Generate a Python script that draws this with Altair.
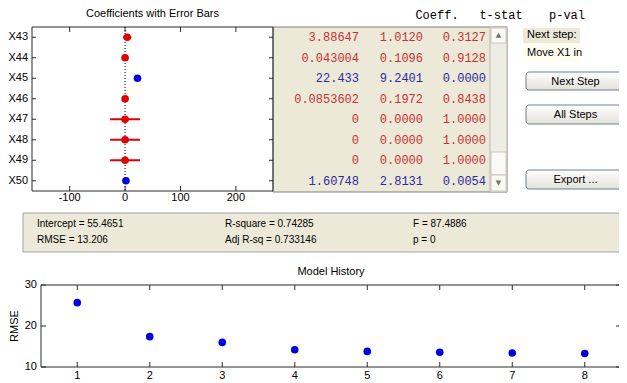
import altair as alt
import pandas as pd

# ---------------- data ----------------
variables = ["X43", "X44", "X45", "X46", "X47", "X48", "X49", "X50"]
coeff = [3.88647, 0.043004, 22.433, 0.0853602, 0.0, 0.0, 0.0, 1.60748]
coeff_text = ["3.88647", "0.043004", "22.433", "0.0853602", "0", "0", "0", "1.60748"]
t_stat = ["1.0120", "0.1096", "9.2401", "0.1972", "0.0000", "0.0000", "0.0000", "2.8131"]
p_val = ["0.3127", "0.9128", "0.0000", "0.8438", "1.0000", "1.0000", "1.0000", "0.0054"]
in_model = [False, False, True, False, False, False, False, True]
ci_half = [7.5, 0.8, 4.8, 0.8, 27.0, 27.0, 27.0, 1.1]
coef_ticks = [-100, 0, 100, 200]

steps = [1, 2, 3, 4, 5, 6, 7, 8]
rmse = [25.7, 17.4, 16.0, 14.2, 13.8, 13.6, 13.4, 13.3]
rmse_ticks = [10, 20, 30]

table_headers = ["Coeff.", "t-stat", "p-val"]
stats_text = [["Intercept = 55.4651", "RMSE = 13.206"],
              ["R-square = 0.74285", "Adj R-sq = 0.733146"],
              ["F = 87.4886", "p = 0"]]
next_step_text = ["Next step:", "Move X1 in"]
button_labels = ["Next Step", "All Steps", "Export ..."]

# ---------------- layout (pixels inside the chart) ----------------
W, H = 611, 375
TX0, TX1, TY0, TY1 = 24, 265, 19, 183       # coefficient axes
BX0, BX1, BY0, BY1 = 33, 613, 277, 359      # model history axes
TAB_X1, SCR_X0 = 499, 482
col_right = [351, 415, 478]
head_x = [429, 493, 559]
btn_y = [(64, 82), (97, 116), (162, 181)]
stats_x = [29, 217, 405]
stats_y = [216, 232]

SANS = "Liberation Sans"
MONO = "Liberation Mono"
FRAME = "#2b2b2b"
RED_DOT, BLUE_DOT = "#E00000", "#0000DD"
RED_TXT, BLUE_TXT = "#C83232", "#2B2BA0"

one = pd.DataFrame({"k": [0]})


def box(x0, x1, y0, y1, **kw):
    return alt.Chart(one).mark_rect(**kw).encode(
        x=alt.value(x0), x2=alt.value(x1), y=alt.value(y0), y2=alt.value(y1))


def label(txt, x, y, **kw):
    opts = dict(font=SANS, fontSize=11, color="black", baseline="middle")
    opts.update(kw)
    return alt.Chart(one).mark_text(text=txt, **opts).encode(
        x=alt.value(x), y=alt.value(y))


coef_df = pd.DataFrame({
    "var": variables,
    "coef": coeff,
    "lo": [c - h for c, h in zip(coeff, ci_half)],
    "hi": [c + h for c, h in zip(coeff, ci_half)],
    "coef_txt": coeff_text,
    "t_txt": t_stat,
    "p_txt": p_val,
    "status": ["In" if m else "Out" for m in in_model],
})
hist_df = pd.DataFrame({"step": steps, "rmse": rmse})
ctick_df = pd.DataFrame({"t": coef_ticks, "lab": [str(v) for v in coef_ticks]})
zero_df = pd.DataFrame({"t": [0]})
stick_df = pd.DataFrame({"s": steps, "lab": [str(v) for v in steps]})
rtick_df = pd.DataFrame({"r": rmse_ticks, "lab": [str(v) for v in rmse_ticks]})

is_in = alt.datum.status == "In"

# ---------------- background decorations ----------------
btn_fill = alt.Gradient(gradient="linear",
                        stops=[alt.GradientStop(color="#FFFFFF", offset=0),
                               alt.GradientStop(color="#E2E1DA", offset=1)],
                        x1=0, x2=0, y1=0, y2=1)

back = [
    box(TX1, TAB_X1, TY0, TY1 + 1, fill="#ECE9D8", stroke="#7F7F7F", strokeWidth=1),
    box(SCR_X0, TAB_X1, TY0, TY1 + 1, fill="#EEEDE5", stroke="#B9B7AC", strokeWidth=1),
    box(SCR_X0 + 1, TAB_X1 - 1, TY0 + 1, TY0 + 16, fill="#FAF9F5", stroke="#C9C7BC", strokeWidth=1),
    box(SCR_X0 + 1, TAB_X1 - 1, 144, 167, fill="#FAF9F5", stroke="#C9C7BC", strokeWidth=1),
    box(SCR_X0 + 1, TAB_X1 - 1, 167, TY1, fill="#FAF9F5", stroke="#C9C7BC", strokeWidth=1),
    label("\u25B2", (SCR_X0 + TAB_X1) / 2, 27, font="DejaVu Sans", fontSize=7,
          color="#6F6F6F", align="center"),
    label("\u25BC", (SCR_X0 + TAB_X1) / 2, 175, font="DejaVu Sans", fontSize=7,
          color="#6F6F6F", align="center"),
    box(515, 572, 20, 35, fill="#ECE9D8"),
    box(515, 572, 35, 54, fill="#FFFFF0"),
    box(15, 612, 205, 244, fill="#ECE9D8", stroke="#9DA5AF", strokeWidth=1),
]
for lbl, (y0, y1) in zip(button_labels, btn_y):
    back.append(box(518, 617, y0, y1, fill=btn_fill, stroke="#6F7E8E",
                    strokeWidth=1, cornerRadius=3))
    back.append(label(lbl, 567.5, (y0 + y1) / 2 + 0.5, align="center"))
for txt, y in zip(next_step_text, [27, 45]):
    back.append(label(txt, 519, y, align="left"))
for col, xx in zip(stats_text, stats_x):
    for txt, yy in zip(col, stats_y):
        back.append(label(txt, xx, yy, align="left", fontSize=10))
for txt, xx in zip(table_headers, head_x):
    back.append(label(txt, xx, 7, align="center", font=MONO, fontSize=12))
back.append(label("Coefficients with Error Bars", (TX0 + TX1) / 2, 6, align="center"))
back.append(label("Model History", (BX0 + BX1) / 2, 264, align="center"))
back.append(label("RMSE", 6.5, (BY0 + BY1) / 2, align="center", angle=270))

# ---------------- coefficient plot + table ----------------
xs = alt.Scale(domain=[-168, 267], range=[TX0, TX1], nice=False, zero=False)
ys = alt.Scale(type="point", domain=variables, range=[TY0, TY1], padding=0.5)
lab_style = dict(font=SANS, fontSize=11, color="black", baseline="middle")

top = alt.layer(
    alt.Chart(zero_df).mark_rule(color="black", strokeDash=[1, 2], strokeWidth=1).encode(
        x=alt.X("t:Q", scale=xs, axis=None), y=alt.value(TY0), y2=alt.value(TY1)),
    alt.Chart(ctick_df).mark_rule(color=FRAME).encode(
        x=alt.X("t:Q", scale=xs, axis=None), y=alt.value(TY0), y2=alt.value(TY0 + 5)),
    alt.Chart(ctick_df).mark_rule(color=FRAME).encode(
        x=alt.X("t:Q", scale=xs, axis=None), y=alt.value(TY1 - 5), y2=alt.value(TY1)),
    alt.Chart(ctick_df).mark_text(align="center", **lab_style).encode(
        x=alt.X("t:Q", scale=xs, axis=None), y=alt.value(TY1 + 7), text="lab:N"),
    alt.Chart(coef_df).mark_rule(color=FRAME).encode(
        y=alt.Y("var:N", scale=ys, axis=None), x=alt.value(TX0), x2=alt.value(TX0 + 4)),
    alt.Chart(coef_df).mark_rule(color=FRAME).encode(
        y=alt.Y("var:N", scale=ys, axis=None), x=alt.value(TX1 - 4), x2=alt.value(TX1)),
    alt.Chart(coef_df).mark_text(align="right", **lab_style).encode(
        y=alt.Y("var:N", scale=ys, axis=None), x=alt.value(TX0 - 4), text="var:N"),
    alt.Chart(coef_df).mark_rule(strokeWidth=2).encode(
        x=alt.X("lo:Q", scale=xs, axis=None), x2="hi:Q",
        y=alt.Y("var:N", scale=ys, axis=None),
        color=alt.condition(is_in, alt.value(BLUE_DOT), alt.value(RED_DOT))),
    alt.Chart(coef_df).mark_circle(size=58, opacity=1).encode(
        x=alt.X("coef:Q", scale=xs, axis=None),
        y=alt.Y("var:N", scale=ys, axis=None),
        color=alt.condition(is_in, alt.value(BLUE_DOT), alt.value(RED_DOT))),
    *[alt.Chart(coef_df).mark_text(align="right", baseline="middle", font=MONO,
                                   fontSize=12).encode(
        y=alt.Y("var:N", scale=ys, axis=None), x=alt.value(xr), text=f"{fld}:N",
        color=alt.condition(is_in, alt.value(BLUE_TXT), alt.value(RED_TXT)))
      for fld, xr in zip(["coef_txt", "t_txt", "p_txt"], col_right)],
)

# ---------------- model history ----------------
xs2 = alt.Scale(domain=[0.5, 8.5], range=[BX0, BX1], nice=False, zero=False)
ys2 = alt.Scale(domain=[10, 30], range=[BY1, BY0], nice=False, zero=False)

bottom = alt.layer(
    alt.Chart(stick_df).mark_rule(color=FRAME).encode(
        x=alt.X("s:Q", scale=xs2, axis=None), y=alt.value(BY0), y2=alt.value(BY0 + 5)),
    alt.Chart(stick_df).mark_rule(color=FRAME).encode(
        x=alt.X("s:Q", scale=xs2, axis=None), y=alt.value(BY1 - 5), y2=alt.value(BY1)),
    alt.Chart(stick_df).mark_text(align="center", **lab_style).encode(
        x=alt.X("s:Q", scale=xs2, axis=None), y=alt.value(BY1 + 9), text="lab:N"),
    alt.Chart(rtick_df).mark_rule(color=FRAME).encode(
        y=alt.Y("r:Q", scale=ys2, axis=None), x=alt.value(BX0), x2=alt.value(BX0 + 5)),
    alt.Chart(rtick_df).mark_rule(color=FRAME).encode(
        y=alt.Y("r:Q", scale=ys2, axis=None), x=alt.value(BX1 - 5), x2=alt.value(BX1)),
    alt.Chart(rtick_df).mark_text(align="right", **lab_style).encode(
        y=alt.Y("r:Q", scale=ys2, axis=None), x=alt.value(BX0 - 4), text="lab:N"),
    alt.Chart(hist_df).mark_circle(size=58, opacity=1, color=BLUE_DOT).encode(
        x=alt.X("step:Q", scale=xs2, axis=None),
        y=alt.Y("rmse:Q", scale=ys2, axis=None)),
)

frames = [
    box(TX0, TX1, TY0, TY1, fillOpacity=0, stroke=FRAME, strokeWidth=1),
    box(BX0, BX1, BY0, BY1, fillOpacity=0, stroke=FRAME, strokeWidth=1),
]

chart = alt.layer(*back, top, bottom, *frames).resolve_scale(
    x="independent", y="independent"
).properties(
    width=W, height=H, padding=0, autosize=alt.AutoSizeParams(type="none"),
    background="white",
).configure_view(strokeWidth=0)

chart.save("out.html", embed_options={"renderer": "svg", "actions": False})
